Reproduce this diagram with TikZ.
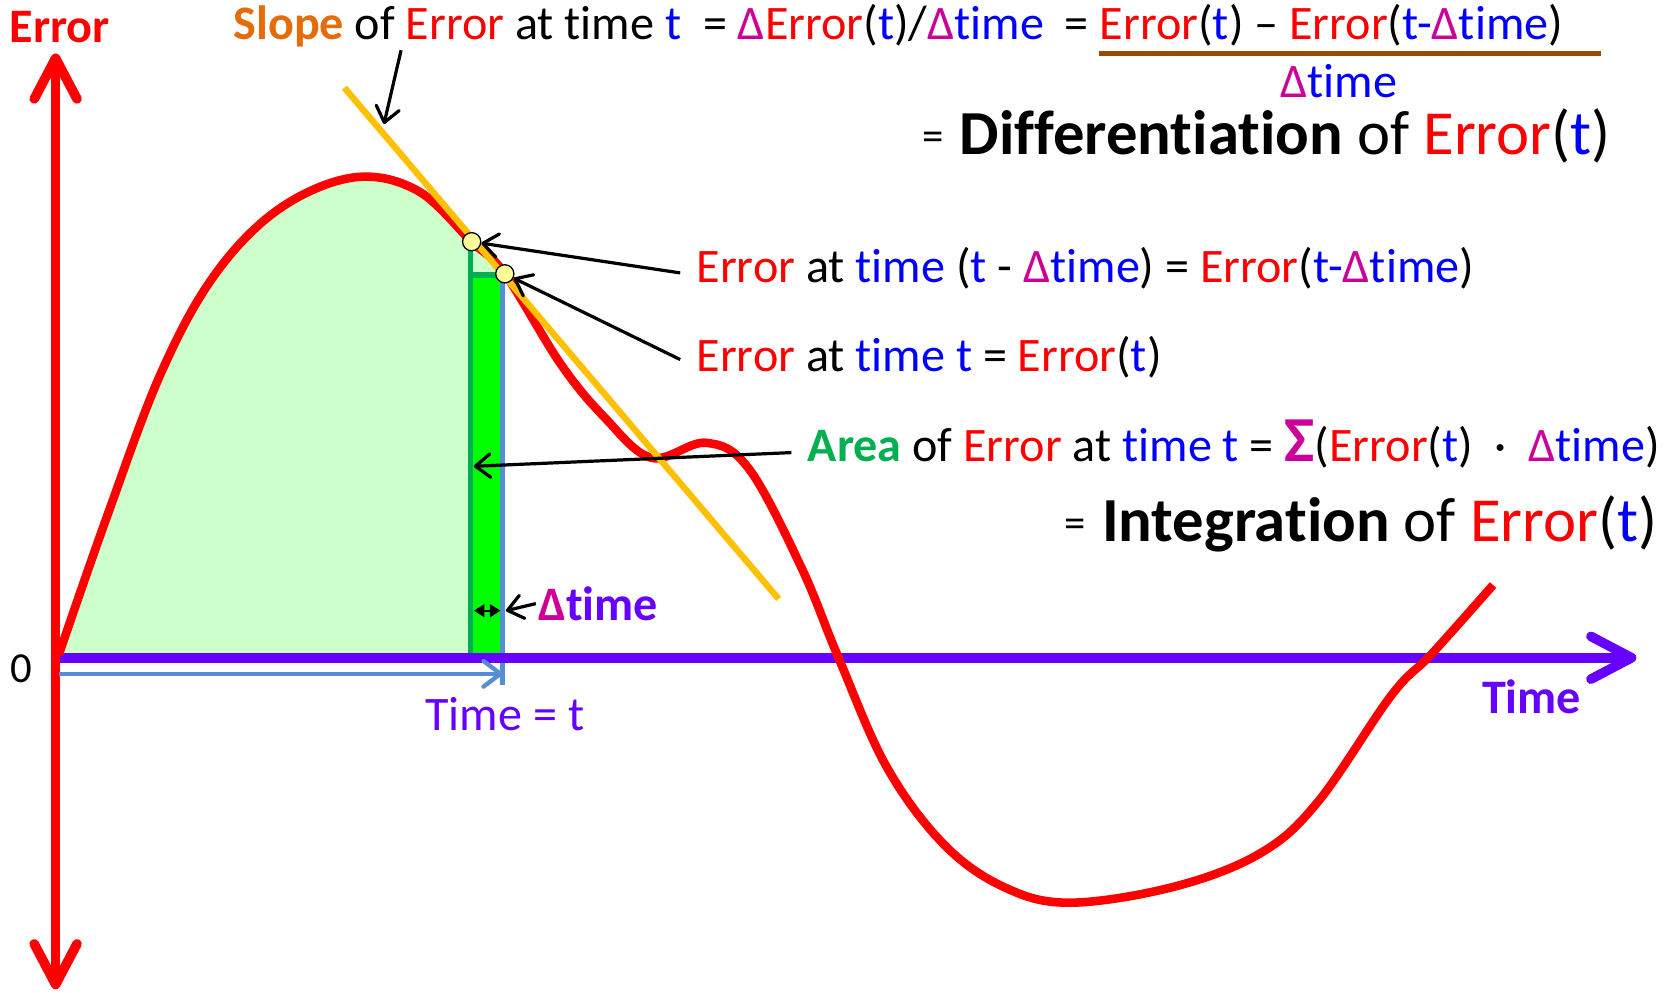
\documentclass[tikz,border=0pt]{standalone}
\usepackage{fontspec}
\setmainfont{Carlito}[Ligatures=NoCommon]
\usepackage{xcolor}
\usepackage{tikz}
\usetikzlibrary{arrows.meta}
\usetikzlibrary{positioning}

\definecolor{errred}{HTML}{FF0000}
\definecolor{tblue}{HTML}{0000FF}
\definecolor{dmag}{HTML}{CC0099}
\definecolor{slopeorange}{HTML}{E46C0A}
\definecolor{tangentgold}{HTML}{FFC000}
\definecolor{axispurple}{HTML}{6600FF}
\definecolor{areagreen}{HTML}{00B050}
\definecolor{lightarea}{HTML}{CCFFCC}
\definecolor{stripgreen}{HTML}{00FF00}
\definecolor{steelblue}{HTML}{558ED5}
\definecolor{fracbrown}{HTML}{984807}
\definecolor{dotyellow}{HTML}{FFFF99}

\newcommand{\errw}{\textcolor{errred}{Error}}
\newcommand{\tvar}{\textcolor{tblue}{t}}
\newcommand{\tword}{\textcolor{tblue}{time}}
\newcommand{\dtime}{\textcolor{dmag}{Δ}\textcolor{tblue}{time}}

\begin{document}
\begin{tikzpicture}[x=0.5pt, y=-0.5pt,
    every node/.style={inner sep=0pt, font=\fontsize{22.5}{27}\selectfont},
    eq text/.style={anchor=base west},
    big text/.style={anchor=base west, font=\fontsize{29.3}{35}\selectfont},
    axis line/.style={line width=4.5pt, line cap=round},
    pointer/.style={line width=1.5pt, -{Straight Barb[round, length=7pt, width=11pt]}},
    marker/.style={circle, draw, fill=dotyellow, line width=0.6pt, minimum size=8.5pt},
  ]
\tikzset{>={Straight Barb[round, length=19pt, width=20pt]}}
  \useasboundingbox (0,0) rectangle (1568,928);

  % area up to time t
  \begin{scope}
    \clip (55,0) rectangle (470,612);
    \fill[lightarea] plot[smooth, tension=0.6] coordinates {(55,612) (100,483) (150,350) (200,258)
      (260,196) (330,166) (390,178) (441,226) (472,256) (524,340) (565,390) (609,428)}
      -- (609,612) -- cycle;
  \end{scope}
  \fill[stripgreen] (441,257) rectangle (470,612);
  \draw[areagreen, line width=2.5pt] (440,226) -- (440,612);
  \draw[areagreen, line width=2.5pt] (440,257) -- (470,257);
  \draw[steelblue, line width=2.5pt] (470,257) -- (470,640);

  \coordinate (origin) at (52,615);
  \coordinate (xend)   at (1530,615);
  \coordinate (ytop)   at (52,50);
  \coordinate (ybot)   at (52,925);

  \draw[axis line, axispurple, ->] (origin) -- (xend);
  \draw[axis line, errred, <->] (ybot) -- (ytop);

  \draw[errred, line width=4pt, line join=round] plot[smooth, tension=0.6] coordinates {(55,612)
    (100,483) (150,350) (200,258) (260,196) (330,166) (390,178) (441,226) (472,256) (524,340)
    (565,390) (609,428) (660,414) (700,438) (749,530) (784,615) (829,717) (883,790) (940,830)
    (1001,844) (1098,829) (1178,798) (1232,750) (1301,650) (1339,611) (1396,547)};

  \draw[tangentgold, line width=3pt] (322,82) -- (728,560);

  \node[marker] (cprev) at (441,226) {};
  \node[marker] (cnow)  at (472,256) {};

  % axis labels
  \node[font=\fontsize{22.5}{27}\selectfont\bfseries, text=errred] (ylabel) at (56,25) {Error};
  \node[font=\fontsize{20}{24}\selectfont] (zero) at (20,625) {0};
  \node[font=\fontsize{22.5}{27}\selectfont\bfseries, text=axispurple, anchor=base] (xlabel) at (1432,667) {Time};
  \node[text=axispurple, anchor=base] (tlabel) at (472,683) {Time = t};

  \coordinate (tstart) at (55,630);
  \coordinate (tend)   at (470,630);
  \draw[steelblue, line width=2pt, -{Straight Barb[round, length=8pt, width=12pt]}] (tstart) -- (tend);

  % delta time at the strip
  \node[eq text, font=\fontsize{22.5}{27}\selectfont\bfseries] (dlabel) at (503,580)
    {\textcolor{dmag}{Δ}\textcolor{axispurple}{time}};
  \coordinate (stripl) at (443,571);
  \coordinate (stripr) at (468,571);
  \coordinate (striptip) at (473,571);
  \draw[line width=1pt, {Triangle[length=5pt, width=6pt]}-{Triangle[length=5pt, width=6pt]}] (stripl) -- (stripr);
  \draw[pointer] ([xshift=-1pt]dlabel.west) -- (striptip);

  % slope
  \node[eq text] (slope) at (218,36.5)
    {\textbf{\textcolor{slopeorange}{Slope}} of \errw{} at time \tvar};
  \node[eq text] (ratio) at (657,36.5)
    {= \textcolor{dmag}{Δ}\errw(\tvar)/\dtime};
  \node[eq text] (fraceq) at (995,36.5) {=};
  \node[eq text] (numer) at (1028,36.5)
    {\errw(\tvar) – \errw(\textcolor{tblue}{t-}\dtime)};
  \coordinate (barl) at (1028,50);
  \coordinate (barr) at (1497,50);
  \draw[fracbrown, line width=2.5pt] (barl) -- (barr);
  \node[anchor=base] (denom) at (1252,91) {\dtime};
  \node[eq text, font=\fontsize{20}{24}\selectfont] (diffeq) at (862,141) {=};
  \node[big text] (diff) at (897,144) {\textbf{Differentiation} of \errw(\tvar)};

  \coordinate (slopetail) at (375,47);
  \coordinate (slopehit)  at (359,116);
  \draw[pointer] (slopetail) -- (slopehit);

  % points on the curve
  \node[eq text] (prevlabel) at (651,264.5)
    {\errw{} at \tword{} (\tvar{} - \dtime) = \errw(\textcolor{tblue}{t-}\dtime)};
  \node[eq text] (nowlabel) at (651,347.5)
    {\errw{} at \tword{} \tvar{} = \errw(\tvar)};
  \draw[pointer] ([xshift=-7.5pt, yshift=-2pt]prevlabel.west) -- (cprev);
  \draw[pointer] ([xshift=-7.5pt, yshift=-1pt]nowlabel.west) -- (cnow);

  % area
  \node[eq text] (area) at (755,431.5)
    {\textbf{\textcolor{areagreen}{Area}} of \errw{} at \tword{} \tvar{} =
     \textcolor{dmag}{\fontsize{30}{30}\selectfont\bfseries Σ}(\errw(\tvar)\hspace{0.45em}·\hspace{0.45em}\dtime)};
  \coordinate (areahit) at (443,436);
  \draw[pointer] ([xshift=-7.5pt, yshift=-4pt]area.west) -- (areahit);
  \node[eq text, font=\fontsize{20}{24}\selectfont] (inteq) at (995,503) {=};
  \node[big text] (integ) at (1030,506) {\textbf{Integration} of \errw(\tvar)};

\end{tikzpicture}
\end{document}
